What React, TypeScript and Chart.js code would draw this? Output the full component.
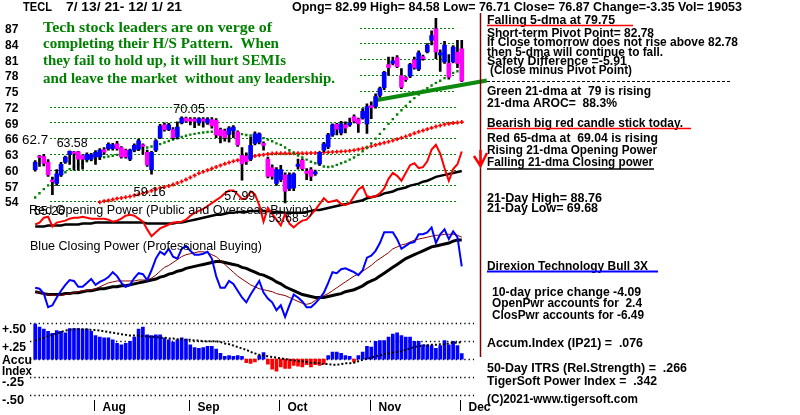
import React, { useEffect, useRef } from "react";
import { Chart, registerables } from "chart.js";

Chart.register(...registerables);

// ---------- DATA ----------
const OPEN = [60.0,62.5,62.5,61.4,58.0,57.4,59.0,61.4,62.9,63.4, 63.4,62.7,61.9,62.0,62.4,62.4,63.8,64.0,64.0,64.9, 64.2,63.7,62.0,63.7,63.9,64.7,63.3,60.0,63.7,66.1, 68.5,67.6,67.6,66.2,68.9,69.8,69.6,69.6,68.9,69.6, 68.9,69.5,69.4,67.6,67.4,66.7,67.4,67.2,62.7,62.6, 62.0,65.0,65.2,65.0,62.0,60.4,57.4,58.1,59.0,56.4, 56.5,60.6,61.8,59.7,60.0,59.2,61.1,63.7,64.3,66.6, 68.6,67.0,68.5,68.5,70.1,69.6,69.8,68.7,72.2,72.0, 74.1,75.6,80.0,80.2,81.3,77.9,77.5,77.8,80.9,79.1, 81.5,82.4,84.6,86.8,81.8,80.5,80.2,80.5,82.3,82.99];
const HIGH = [61.7,62.7,62.9,61.9,58.6,60.0,61.4,62.6,63.58,63.5, 63.5,62.8,63.2,63.1,63.6,64.0,64.2,65.1,65.0,65.4, 64.4,63.9,63.9,64.9,65.8,64.9,63.7,63.5,65.7,68.6, 68.9,68.8,68.0,69.1,70.05,70.0,69.9,69.9,69.9,69.9, 69.9,69.9,69.7,67.9,67.7,68.2,68.4,67.4,64.2,63.2, 66.2,67.2,67.0,65.3,62.4,60.9,60.4,60.8,59.4,59.4, 59.4,62.0,62.0,60.2,60.4,59.9,63.4,65.2,66.9,68.7, 68.8,69.2,69.1,69.8,70.4,69.8,71.6,72.5,72.9,74.4, 75.7,78.7,81.4,81.4,81.7,79.2,77.7,80.2,81.4,82.6, 81.8,84.0,86.4,88.76,82.8,84.4,81.9,83.6,84.6,84.58];
const LOW = [59.7,60.6,60.7,58.7,55.26,57.0,58.7,61.2,61.0,59.9, 59.9,60.1,61.6,61.7,61.0,61.9,62.9,63.7,63.7,63.7, 62.2,62.2,61.7,63.4,63.6,62.9,60.6,59.16,63.4,65.9, 67.3,67.4,65.8,65.9,68.7,69.0,68.5,68.0,68.4,68.1, 68.6,67.9,66.1,65.1,65.4,65.2,66.1,64.4,57.99,61.0, 61.7,64.7,64.9,63.7,58.4,58.2,57.0,57.7,53.68,56.0, 56.0,60.1,59.9,58.1,57.9,58.9,60.8,63.4,64.0,66.3, 66.6,66.6,67.0,68.2,68.9,67.1,69.6,66.9,69.68,71.7, 73.8,75.2,77.9,79.9,79.4,75.4,76.8,77.5,79.1,78.8, 80.8,82.2,83.7,81.1,78.7,80.2,77.2,80.3,79.4,76.71];
const CLOSE = [61.4,62.3,61.2,59.0,57.7,59.2,61.0,62.4,63.5,63.1, 62.0,62.0,62.9,62.8,63.3,63.7,63.3,64.8,64.7,64.0, 62.4,62.4,63.7,64.6,65.5,64.4,60.9,63.3,65.5,68.3, 67.6,68.5,66.1,68.1,69.8,69.2,69.2,69.2,69.7,69.2, 69.6,68.3,66.6,66.4,66.1,67.9,68.1,64.7,61.1,61.5, 64.6,66.8,66.8,64.6,58.7,58.7,60.0,60.0,55.9,59.0, 59.2,61.0,60.2,59.3,58.7,59.6,63.3,64.9,66.6,68.5, 67.7,68.7,67.9,68.9,69.2,68.7,71.1,72.0,71.8,73.9, 75.4,78.5,79.4,80.7,79.6,75.7,77.1,80.0,79.4,82.2, 81.1,83.7,85.5,82.4,82.2,83.7,77.6,83.3,80.22,76.87];

const MA21 = [54.7,55.5,56.3,57.0,57.7,58.3,58.9,59.5,60.1,60.6, 61.0,61.3,61.6,61.8,62.0,62.2,62.35,62.5,62.65,62.8, 62.95,63.1,63.3,63.55,63.8,64.0,64.2,64.4,64.6,64.85, 65.15,65.45,65.7,65.95,66.2,66.45,66.65,66.8,66.95,67.05, 67.15,67.2,67.2,67.2,67.15,67.05,66.95,66.85,66.75,66.6, 66.5,66.35,66.2,66.0,65.7,65.4,65.0,64.7,64.2,63.7, 63.2,62.7,62.3,61.9,61.5,61.2,61.0,60.6,60.5,60.6, 60.9,61.2,61.5,61.9,62.3,62.8,63.5,64.2,65.0,65.9, 66.8,67.7,68.7,69.6,70.5,71.3,72.1,72.9,73.6,74.3, 75.0,75.5,76.0,76.5,76.9,77.4,77.9,78.4,78.7,79.0];
const MA65 = [null,null,null,null,null,null,null,null,null,null, null,null,null,null,null,53.8,54.0,54.15,54.3,54.5, 54.6,54.75,54.9,55.1,55.3,55.5,55.75,56.0,56.25,56.5, 56.7,56.9,57.15,57.45,57.75,58.1,58.5,58.9,59.3,59.6, 59.9,60.2,60.5,60.8,61.1,61.35,61.6,61.8,62.0,62.2, 62.4,62.6,62.75,62.85,62.95,63.05,63.1,63.1,63.1,63.1, 63.1,63.1,63.1,63.1,63.15,63.15,63.2,63.25,63.3,63.35, 63.4,63.45,63.5,63.6,63.7,63.85,64.0,64.2,64.45,64.7, 64.9,65.1,65.3,65.55,65.8,66.05,66.3,66.6,66.9,67.2, 67.45,67.7,67.95,68.2,68.4,68.6,68.75,68.85,68.95,69.04];

const TREND_X = [79.35, 104.8];
const TREND_Y = [73.26, 76.96];

const OPEN_POWER = [6,10,20,22,2,10,12,14,18,20, 20,22,20,18,18,18,18,16,12,14, 18,24,26,24,18,12,-4,-18,-10,-2, 2,6,10,10,12,16,24,30,34,38, 44,50,56,62,70,76,76,68,58,60, 74,68,46,12,40,28,16,4,28,8, 0,8,14,16,26,36,48,60,52,54, 56,48,46,50,64,78,84,64,62,64, 70,80,100,112,106,96,112,128,132,122, 124,136,160,170,152,122,96,120,130,156];
const OPEN_POWER_MA = [2,2,2,4,4,4,4,6,6,6, 6,8,8,8,10,10,10,10,10,10, 10,10,10,10,10,10,8,8,8,8, 8,8,8,10,10,12,14,16,18,20, 22,24,26,26,28,30,30,32,32,32, 34,34,34,34,34,32,32,32,30,30, 30,30,30,32,34,36,36,38,40,42, 44,46,48,50,52,54,56,60,62,64, 66,70,72,74,78,80,82,86,88,90, 94,96,100,104,106,108,110,112,114,116];

const CLOSE_POWER = [20,18,8,-20,-16,0,14,26,36,34, 22,22,30,38,26,32,36,42,52,44, 30,22,26,40,50,48,36,56,80,94, 88,100,84,80,100,106,96,88,88,90, 94,80,44,20,20,34,28,14,0,-10, 6,20,34,10,-2,-10,-26,-16,-40,-16, 6,0,-8,-20,-20,-12,-2,10,30,52, 50,58,60,56,52,46,56,82,86,96, 112,134,134,134,120,100,106,112,114,130, 130,134,144,112,130,140,120,136,124,64];
const CLOSE_POWER_MA = [12,10,8,6,6,6,6,8,8,10, 10,12,14,14,16,18,18,20,22,22, 24,24,26,28,30,32,34,36,38,42, 44,48,50,54,56,60,62,64,66,68, 70,72,74,74,72,70,68,66,62,60, 56,52,48,46,42,38,32,28,22,18, 14,10,6,4,2,0,0,0,2,4, 6,8,12,14,16,20,24,30,34,38, 44,50,56,62,68,74,80,84,88,92, 96,100,104,106,108,110,112,116,118,118];
const CLOSE_POWER_MA_FAST = [12,10,8,6,4,4,4,6,8,10, 12,14,14,16,18,22,26,30,32,34, 34,34,34,34,36,36,36,40,46,54, 62,66,72,78,84,88,90,92,94,94, 92,88,84,76,68,60,52,44,38,32, 26,22,18,16,14,12,8,6,4,0, -4,-8,-12,-14,-12,-6,0,4,8,14, 20,26,32,38,44,48,54,60,66,74, 80,86,92,100,104,108,110,114,118,120, 122,124,126,128,128,130,130,130,128,124];

const ACCUM = [.49,.45,.42,.39,.36,.40,.39,.37,.43,.43, .43,.42,.42,.39,.33,.31,.30,.30,.27,.22, .20,.22,.25,.31,.42,.45,.34,.33,.34,.34, .30,.27,.24,.27,.30,.28,.20,.16,.15,.16, .18,.18,.14,.08,.04,.05,.04,.05,.04,-.05, -.06,-.04,.05,.09,-.07,-.14,-.17,-.11,-.13,-.13, -.09,-.10,-.11,-.08,-.11,-.08,-.09,-.07,.05,.10, .10,.08,.05,.04,-.04,.05,.10,.18,.17,.25, .26,.26,.31,.35,.37,.33,.31,.31,.25,.25, .20,.20,.19,.15,.19,.26,.20,.25,.19,.076];
const ACCUM_MA = [.26,.28,.30,.32,.34,.36,.38,.40,.41,.42, .42,.42,.42,.41,.41,.40,.39,.38,.37,.36, .35,.34,.33,.33,.33,.32,.32,.31,.31,.30, .30,.29,.29,.28,.28,.27,.27,.26,.26,.25, .25,.25,.25,.24,.22,.21,.19,.17,.15,.13, .10,.08,.06,.05,.04,.03,.02,.01,0,-.01, -.02,-.03,-.03,-.04,-.05,-.05,-.06,-.07,-.07,-.08, -.08,-.07,-.06,-.06,-.05,-.03,-.01,.01,.02,.04, .05,.07,.08,.09,.10,.11,.13,.15,.17,.18, .19,.19,.20,.20,.21,.21,.22,.23,.23,.24];

const PRICE_TICKS = [87, 84, 81, 78, 75, 72, 69, 66, 63, 60, 57, 54];
const UPPER_GRID = [87, 84, 81, 78, 75];
const LOWER_GRID = [72, 69, 66, 63, 60, 57, 54];
const ACCUM_TICKS = [0.5, 0.25, 0, -0.25, -0.5];
const MONTH_LABELS = ["Aug", "Sep", "Oct", "Nov", "Dec"];
const MONTH_START = [14, 36, 57, 78, 99];

const PRICE_NOTES = [
  { t: "62.7", i: 1, p: 62.7, dx: -4.4, dy: -16, w: 26 },
  { t: "63.58", i: 8, p: 63.58, dx: 2.5, dy: -8, w: 31 },
  { t: "70.05", i: 34, p: 70.05, dx: 7.4, dy: -8, w: 32 },
  { t: "59.16", i: 27, p: 59.16, dx: -2, dy: 17, w: 32 },
  { t: "57.99", i: 48, p: 57.99, dx: -2.3, dy: 15.6, w: 31 },
  { t: "53.68", i: 58, p: 53.68, dx: -1.5, dy: 15, w: 30 },
  { t: "55.26", i: 4, p: 55.26, dx: -3, dy: 16, w: 31 },
];

// axis ranges (scale limits)
const X_MIN = -6.865, X_MAX = 176.2;
const P_MIN = 14.392, P_MAX = 91.201;
const OP_MIN = -374, OP_MAX = 456;
const CP_MIN = -230, CP_MAX = 600;
const AI_MIN = -0.7063, AI_MAX = 4.9631;

const SANS = '"Liberation Sans", Arial, sans-serif';
const SERIF = '"Liberation Serif", "Times New Roman", serif';

function drawText(ctx, s, x, y, w, font, color, align = "left") {
  ctx.save();
  ctx.font = font;
  ctx.fillStyle = color;
  ctx.textBaseline = "alphabetic";
  ctx.textAlign = "left";
  const m = ctx.measureText(s).width;
  const width = w || m;
  const sx = w ? w / m : 1;
  const left = align === "center" ? x - width / 2 : x;
  ctx.translate(left, y);
  ctx.scale(sx, 1);
  ctx.fillText(s, 0, 0);
  ctx.restore();
}

function hline(ctx, x1, x2, y, color, lw, dash) {
  ctx.save();
  ctx.strokeStyle = color;
  ctx.lineWidth = lw;
  ctx.setLineDash(dash || []);
  ctx.beginPath();
  ctx.moveTo(x1, y);
  ctx.lineTo(x2, y);
  ctx.stroke();
  ctx.restore();
}

const RIGHT_TEXT = [
  { t: "Falling 5-dma at 79.75", x: 487, y: 24, w: 128 },
  { t: "Short-term Pivot Point= 82.78", x: 487, y: 36.5, w: 167 },
  { t: "If Close tomorrow does not rise above 82.78", x: 487, y: 46, w: 251 },
  { t: "then 5-dma will continue to fall.", x: 487, y: 55.5, w: 176 },
  { t: "Safety Difference =-5.91", x: 487, y: 65, w: 140 },
  { t: "(Close minus Pivot Point)", x: 490, y: 74, w: 142 },
  { t: "Green 21-dma at  79 is rising", x: 487, y: 94.5, w: 164 },
  { t: "21-dma AROC=  88.3%", x: 487, y: 106.5, w: 130 },
  { t: "Bearish big red candle stick today.", x: 487, y: 127, w: 196 },
  { t: "Red 65-dma at  69.04 is rising", x: 487, y: 141.5, w: 171 },
  { t: "Rising 21-dma Opening Power", x: 487, y: 154, w: 170 },
  { t: "Falling 21-dma Closing power", x: 487, y: 166, w: 166 },
  { t: "21-Day High= 88.76", x: 487, y: 201.5, w: 115 },
  { t: "21-Day Low= 69.68", x: 487, y: 211.5, w: 111 },
  { t: "Direxion Technology Bull 3X", x: 487, y: 270, w: 161 },
  { t: "10-day price change -4.09", x: 492, y: 295.5, w: 149 },
  { t: "OpenPwr accounts for  2.4", x: 492, y: 306.5, w: 150 },
  { t: "ClosPwr accounts for -6.49", x: 492, y: 319, w: 152 },
  { t: "Accum.Index (IP21) =  .076", x: 487, y: 347, w: 156 },
  { t: "50-Day ITRS (Rel.Strength) =  .266", x: 487, y: 371.5, w: 200 },
  { t: "TigerSoft Power Index =  .342", x: 487, y: 385, w: 170 },
  { t: "(C)2021-www.tigersoft.com", x: 487, y: 402.5, w: 151 },
];

const GREEN_TEXT = [
  { t: "Tech stock leaders are on verge of", y: 31.5, w: 229 },
  { t: "completing their H/S Pattern.  When", y: 48.3, w: 236 },
  { t: "they fail to hold up, it will hurt SEMIs", y: 65.3, w: 243 },
  { t: "and leave the market  without any leadership.", y: 83, w: 292 },
];

const overlay = {
  id: "tigerOverlay",
  beforeDraw(chart) {
    const ctx = chart.ctx;
    ctx.save();
    ctx.fillStyle = "#ffffff";
    ctx.fillRect(0, 0, chart.width, chart.height);
    ctx.restore();
  },
  beforeDatasetsDraw(chart) {
    const ctx = chart.ctx;
    const ps = chart.scales.p;
    const as = chart.scales.ai;
    UPPER_GRID.forEach((p) => {
      const y = Math.round(ps.getPixelForValue(p)) + 0.5;
      hline(ctx, 360, 456, y, "#008000", 1, [2, 2]);
    });
    LOWER_GRID.forEach((p) => {
      const y = Math.round(ps.getPixelForValue(p)) + 0.5;
      hline(ctx, 50, 456, y, "#008000", 1, [2, 2]);
    });
    ACCUM_TICKS.forEach((v) => {
      const y = Math.round(as.getPixelForValue(v)) + 0.5;
      hline(ctx, 30, 474, y, "#000000", 1.3, [1.3, 3]);
    });
  },
  afterDatasetsDraw(chart) {
    const ctx = chart.ctx;
    const xs = chart.scales.x;
    const ps = chart.scales.p;
    const B12 = "bold 12px " + SANS;

    // header
    drawText(ctx, "TECL", 23, 11, 29, B12, "#000");
    drawText(ctx, "7/ 13/ 21- 12/ 1/ 21", 66, 11, 116, B12, "#000");
    drawText(ctx, "Opng= 82.99 High= 84.58 Low= 76.71 Close= 76.87 Change=-3.35 Vol= 19053", 292, 11, 450, B12, "#000");

    // price axis labels
    PRICE_TICKS.forEach((p) => {
      drawText(ctx, String(p), 5, ps.getPixelForValue(p) + 5.3, 0, B12, "#000");
    });

    // green commentary
    GREEN_TEXT.forEach((g) => drawText(ctx, g.t, 43, g.y, g.w, "bold 15px " + SERIF, "#008000"));

    // price annotations
    PRICE_NOTES.forEach((n) => {
      const x = xs.getPixelForValue(n.i) + n.dx;
      const y = ps.getPixelForValue(n.p) + n.dy + 4.5;
      drawText(ctx, n.t, x, y, n.w, "13px " + SANS, "#000", "center");
    });

    // panel titles
    drawText(ctx, "Red Opening Power (Public and Overseas Buying)", 29, 214, 284, "13px " + SANS, "#000");
    drawText(ctx, "Blue Closing Power (Professional Buying)", 30, 249.5, 232, "13px " + SANS, "#000");

    // vertical divider
    ctx.save();
    ctx.strokeStyle = "#800000";
    ctx.lineWidth = 1.5;
    ctx.beginPath();
    ctx.moveTo(480.5, 13);
    ctx.lineTo(480.5, 357);
    ctx.stroke();
    // red arrow
    ctx.strokeStyle = "#ff0000";
    ctx.lineWidth = 2.5;
    ctx.beginPath();
    ctx.moveTo(480.5, 150);
    ctx.lineTo(480.5, 166);
    ctx.moveTo(474, 156);
    ctx.lineTo(480.5, 166);
    ctx.lineTo(487, 153);
    ctx.stroke();
    ctx.restore();

    // right texts
    RIGHT_TEXT.forEach((r) => drawText(ctx, r.t, r.x, r.y, r.w, B12, "#000"));
    hline(ctx, 487, 633, 25.5, "#ff0000", 1.5);
    hline(ctx, 487, 732, 81.5, "#000000", 1, [3, 2]);
    hline(ctx, 487, 691, 128.5, "#ff0000", 1.5);
    hline(ctx, 487, 654, 169, "#000000", 1.5);
    hline(ctx, 487, 658, 271.5, "#0000ff", 2);

    // accum labels
    drawText(ctx, "+.50", 2, 333, 24, B12, "#000");
    drawText(ctx, "+.25", 2, 351, 24, B12, "#000");
    drawText(ctx, "Accu", 2, 363.5, 30, B12, "#000");
    drawText(ctx, "Index", 2, 374.5, 30, B12, "#000");
    drawText(ctx, "-.25", 2, 386, 22, B12, "#000");
    drawText(ctx, "-.50", 2, 404, 22, B12, "#000");

    // month ticks
    MONTH_START.forEach((i, k) => {
      const x = Math.round(xs.getPixelForValue(i - 0.4)) + 0.5;
      ctx.save();
      ctx.strokeStyle = "#000";
      ctx.lineWidth = 1;
      ctx.beginPath();
      ctx.moveTo(x, 400);
      ctx.lineTo(x, 411);
      ctx.stroke();
      ctx.restore();
      drawText(ctx, MONTH_LABELS[k], x + 8, 410.5, 0, B12, "#000");
    });
  },
};

export default function App() {
  const ref = useRef(null);
  useEffect(() => {
    const canvas = ref.current;
    if (!canvas) return;
    const idx = CLOSE.map((_, i) => i);
    const pts = (arr) => idx.filter((i) => arr[i] !== null && arr[i] !== undefined).map((i) => ({ x: i, y: arr[i] }));
    const chart = new Chart(canvas, {
      type: "bar",
      data: {
        datasets: [
          {
            type: "bar",
            label: "body",
            data: idx.map((i) => ({ x: i, y: [OPEN[i], CLOSE[i]] })),
            backgroundColor: idx.map((i) => (CLOSE[i] >= OPEN[i] ? "#0000ff" : "#ff00ff")),
            borderWidth: 0,
            barThickness: 4,
            maxBarThickness: 4,
            grouped: false,
            minBarLength: 1.5,
            yAxisID: "p",
            order: 0,
          },
          {
            type: "bar",
            label: "wick",
            data: idx.map((i) => ({ x: i, y: [LOW[i], HIGH[i]] })),
            backgroundColor: "#000000",
            borderWidth: 0,
            barThickness: 2,
            maxBarThickness: 2,
            grouped: false,
            yAxisID: "p",
            order: 1,
          },
          {
            type: "line",
            label: "trend",
            data: TREND_X.map((x, k) => ({ x, y: TREND_Y[k] })),
            borderColor: "#0d8a0d",
            borderWidth: 4,
            pointRadius: 0,
            yAxisID: "p",
            order: 2,
          },
          {
            type: "line",
            label: "ma21",
            data: pts(MA21),
            showLine: false,
            pointStyle: "rect",
            pointRadius: 1.7,
            pointBackgroundColor: "#008000",
            pointBorderWidth: 0,
            yAxisID: "p",
            order: 3,
          },
          {
            type: "line",
            label: "ma65",
            data: pts(MA65),
            showLine: false,
            pointStyle: "cross",
            pointRadius: 2,
            pointBorderColor: "#ff0000",
            pointBackgroundColor: "#ff0000",
            pointBorderWidth: 1.6,
            yAxisID: "p",
            order: 3,
          },
          {
            type: "line",
            label: "op",
            data: pts(OPEN_POWER),
            borderColor: "#ff0000",
            borderWidth: 2,
            pointRadius: 0,
            yAxisID: "op",
            order: 4,
          },
          {
            type: "line",
            label: "opma",
            data: pts(OPEN_POWER_MA),
            borderColor: "#000000",
            borderWidth: 2.5,
            pointRadius: 0,
            yAxisID: "op",
            order: 5,
          },
          {
            type: "line",
            label: "cp",
            data: pts(CLOSE_POWER),
            borderColor: "#0000ff",
            borderWidth: 2,
            pointRadius: 0,
            yAxisID: "cp",
            order: 6,
          },
          {
            type: "line",
            label: "cpmafast",
            data: pts(CLOSE_POWER_MA_FAST),
            borderColor: "#8b0000",
            borderWidth: 1,
            pointRadius: 0,
            yAxisID: "cp",
            order: 7,
          },
          {
            type: "line",
            label: "cpma",
            data: pts(CLOSE_POWER_MA),
            borderColor: "#000000",
            borderWidth: 3,
            pointRadius: 0,
            yAxisID: "cp",
            order: 8,
          },
          {
            type: "line",
            label: "aima",
            data: pts(ACCUM_MA),
            borderColor: "#000000",
            borderWidth: 2,
            borderDash: [2, 2],
            pointRadius: 0,
            yAxisID: "ai",
            order: 9,
          },
          {
            type: "bar",
            label: "ai",
            data: idx.map((i) => ({ x: i, y: ACCUM[i] })),
            backgroundColor: idx.map((i) => (ACCUM[i] >= 0 ? "#0000ff" : "#ff0000")),
            borderWidth: 0,
            barThickness: 3,
            maxBarThickness: 3,
            grouped: false,
            yAxisID: "ai",
            order: 10,
          },
        ],
      },
      options: {
        responsive: false,
        animation: false,
        devicePixelRatio: 1,
        events: [],
        layout: { padding: 0 },
        plugins: { legend: { display: false }, tooltip: { enabled: false }, title: { display: false } },
        scales: {
          x: { type: "linear", min: X_MIN, max: X_MAX, display: false, offset: false, grid: { display: false } },
          p: { type: "linear", min: P_MIN, max: P_MAX, display: false, beginAtZero: false },
          op: { type: "linear", min: OP_MIN, max: OP_MAX, display: false, beginAtZero: false },
          cp: { type: "linear", min: CP_MIN, max: CP_MAX, display: false, beginAtZero: false },
          ai: { type: "linear", min: AI_MIN, max: AI_MAX, display: false, beginAtZero: false },
        },
      },
      plugins: [overlay],
    });
    return () => chart.destroy();
  }, []);

  return (
    <div style={{ position: "fixed", left: 0, top: 0, width: 800, height: 415, background: "#fff" }}>
      <canvas ref={ref} width={800} height={415} style={{ display: "block", width: 800, height: 415 }} />
    </div>
  );
}
